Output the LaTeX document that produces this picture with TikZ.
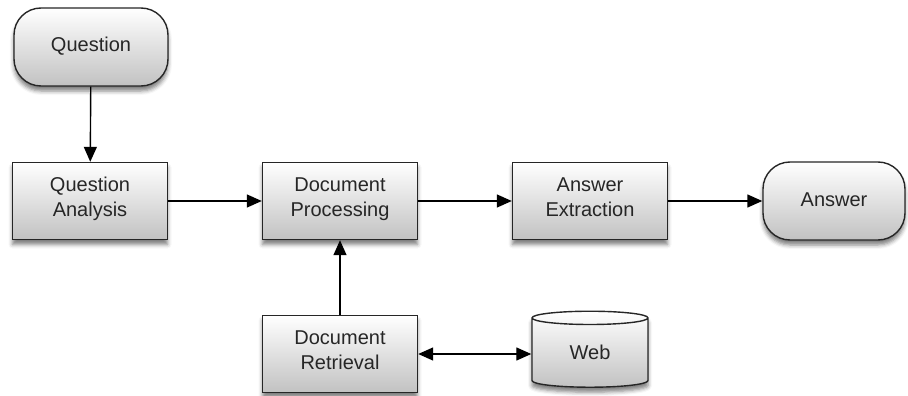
\documentclass[tikz,border=0pt]{standalone}
\usepackage{fontspec}
\setmainfont{Liberation Sans}
\usetikzlibrary{arrows.meta,shapes.geometric,shadows.blur}
\tikzset{
  base/.style={draw=black!85, line width=1.4pt, top color=white, bottom color=black!24,
    text=black!85, font=\fontsize{20}{25}\selectfont, align=center,
    execute at begin node=\strut, execute at end node=\strut,
    blur shadow={shadow xshift=0pt, shadow yshift=-5pt, shadow blur radius=4pt, shadow opacity=50}},
  procbox/.style={base, rectangle, minimum width=155pt, minimum height=77pt},
  terminal/.style={base, rectangle, rounded corners=27pt, minimum width=154pt, minimum height=78pt},
  store/.style={base, cylinder, shape border rotate=90, aspect=0.28,
    minimum width=116pt, minimum height=76pt},
  tip/.style={Triangle[length=15pt,width=13pt]},
  link/.style={line width=1.4pt, -{Triangle[length=15pt,width=13pt]}},
}
\begin{document}
\begin{tikzpicture}[x=1pt,y=-1pt]
  \useasboundingbox (0,0) rectangle (908,396);
  % nodes
  \node[terminal] (question) at (91,47) {Question};
  \node[procbox] (qa) at (90,201) {Question\\Analysis};
  \node[procbox] (dp) at (340,201) {Document\\Processing};
  \node[procbox] (ae) at (590,201) {Answer\\Extraction};
  \node[terminal, minimum width=142pt] (answer) at (834,201) {Answer};
  \node[procbox] (dr) at (340,354) {Document\\Retrieval};
  \node[store] (web) at (590,354) {Web};
  % connectors
  \draw[link] (question) -- (qa);
  \draw[link] (qa) -- (dp);
  \draw[link] (dp) -- (ae);
  \draw[link] (ae) -- (answer);
  \draw[link] (dr) -- (dp);
  \draw[link, {Triangle[length=15pt,width=13pt]}-{Triangle[length=15pt,width=13pt]}] (dr) -- (web);
\end{tikzpicture}
\end{document}
